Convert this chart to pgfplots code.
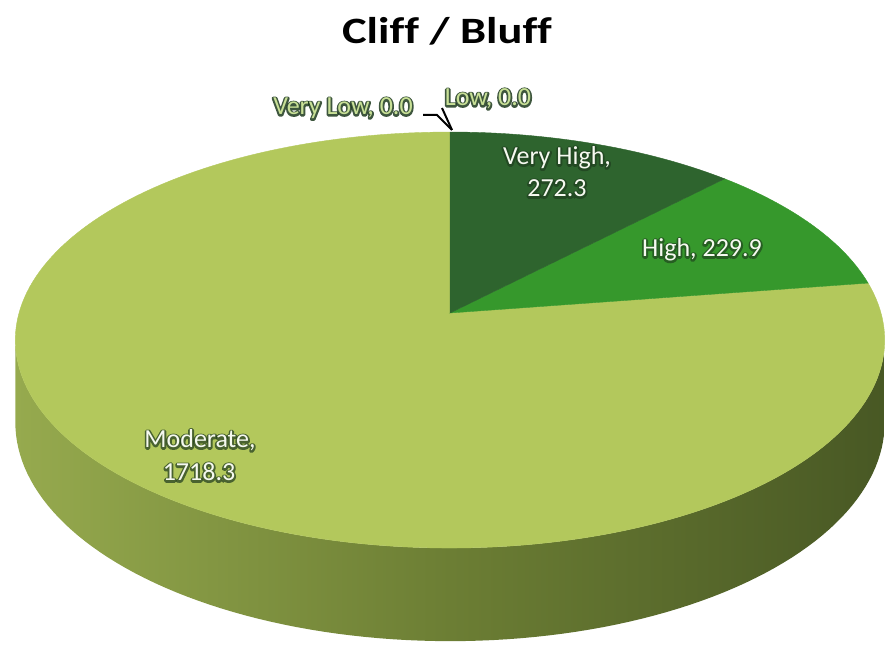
\documentclass[border=0pt]{standalone}
\usepackage{fontspec}
\setmainfont{Carlito}
\newfontfamily\titlefont[FakeStretch=1.25,Ligatures=NoCommon]{Carlito}
\usepackage{pgfplots}
\usepackage{pgfplotstable}
\pgfplotsset{compat=1.18}

\definecolor{cVH}{RGB}{46,100,46}
\definecolor{cH}{RGB}{54,152,44}
\definecolor{cM}{RGB}{179,200,92}
\definecolor{sideL}{RGB}{150,170,78}
\definecolor{sideM}{RGB}{108,126,52}
\definecolor{sideR}{RGB}{72,88,36}
\definecolor{lblw}{RGB}{246,249,240}
\definecolor{lblg}{RGB}{200,224,150}

\pgfplotstableread[col sep=comma]{
name,value
Very High,272.3
High,229.9
Moderate,1718.3
Low,0.0
Very Low,0.0
}\piedata

\pgfplotstablegetelem{0}{value}\of\piedata \let\vVH\pgfplotsretval
\pgfplotstablegetelem{1}{value}\of\piedata \let\vH\pgfplotsretval
\pgfplotstablegetelem{2}{value}\of\piedata \let\vM\pgfplotsretval
\pgfplotstablegetelem{3}{value}\of\piedata \let\vL\pgfplotsretval
\pgfplotstablegetelem{4}{value}\of\piedata \let\vVL\pgfplotsretval
\pgfmathsetmacro\tot{\vVH+\vH+\vM+\vL+\vVL}
\pgfmathsetmacro\aA{90}
\pgfmathsetmacro\aB{\aA-(\vVH/\tot)*360}
\pgfmathsetmacro\aC{\aB-(\vH/\tot)*360}
\pgfmathsetmacro\aD{\aC-(\vM/\tot)*360}

% stroke-only (glow) text: stroke width, text
\newcommand\strk[2]{\special{pdf:literal direct q 0.11 0.22 0.11 RG #1 w 1 j 1 J 1 Tr}#2\special{pdf:literal direct Q}}
% label: x, y (pixel, y down), text colour, glow width, glow opacity, text
\newcommand\glowlabel[6]{%
  \node[anchor=base,opacity=#5] at (axis cs:#1,-#2) {\strk{#4}{#6}};
  \node[anchor=base,text=#3] at (axis cs:#1,-#2) {#6};
}

\begin{document}
\begin{tikzpicture}
\begin{axis}[
  width=446pt, height=323pt, scale only axis,
  xmin=0, xmax=892, ymin=-646, ymax=0,
  hide axis, clip=false,
  font=\fontsize{13}{16}\selectfont,
  declare function={
    PX(\t)=450+431*cos(\t)/(1+0.13*sin(\t));
    PY(\t)=-313+204.5*sin(\t)/(1+0.13*sin(\t));
    HB(\t)=81/(1+0.13*sin(\t));
    ST(\s)=(\s<=1) ? (187.5+165*\s) : ((\s<=1.02) ? 352.5 : (352.5-165*(\s-1.02)));
    SD(\s)=(\s<=1) ? 0 : ((\s<=1.02) ? ((\s-1)/0.02) : 1);
  },
]
% side of the cylinder (front, Moderate slice)
\addplot[draw=none, left color=sideL, right color=sideR, middle color=sideM,
  domain=0:2.02, samples=203, variable=\s]
  ({PX(ST(\s))},{PY(ST(\s))-SD(\s)*HB(ST(\s))});

% top face slices
\addplot[fill=cM, draw=cM, line width=0.2pt, domain=\aD:\aC, samples=180]
  ({PX(x)},{PY(x)}) -- (axis cs:450,-313) -- cycle;
\addplot[fill=cH, draw=cH, line width=0.2pt, domain=\aC:\aB, samples=40]
  ({PX(x)},{PY(x)}) -- (axis cs:450,-313) -- cycle;
\addplot[fill=cVH, draw=cVH, line width=0.2pt, domain=\aB:\aA, samples=40]
  ({PX(x)},{PY(x)}) -- (axis cs:450,-313) -- cycle;

% leader lines for the zero slices
\draw[black, line width=1pt] (axis cs:423,-115) -- (axis cs:437,-115) -- (axis cs:452,-130);
\draw[black, line width=1pt] (axis cs:442,-108) -- (axis cs:452,-130);

% title
\node[anchor=base, font=\titlefont\bfseries\fontsize{18.6}{22}\selectfont] at (axis cs:447,-44) {Cliff / Bluff};

% data labels
\glowlabel{343}{115}{lblg}{1.7}{0.85}{Very Low, 0.0}
\glowlabel{488}{106}{lblg}{1.7}{0.85}{Low, 0.0}
\glowlabel{557}{165}{lblw}{1.8}{0.6}{Very High,}
\glowlabel{557}{197}{lblw}{1.8}{0.6}{272.3}
\glowlabel{702}{257}{lblw}{1.8}{0.6}{High, 229.9}
\glowlabel{200}{448}{lblw}{1.8}{0.7}{Moderate,}
\glowlabel{199}{481}{lblw}{1.8}{0.7}{1718.3}
\end{axis}
\path (0,0) rectangle (446pt,323pt);
\end{tikzpicture}
\end{document}
